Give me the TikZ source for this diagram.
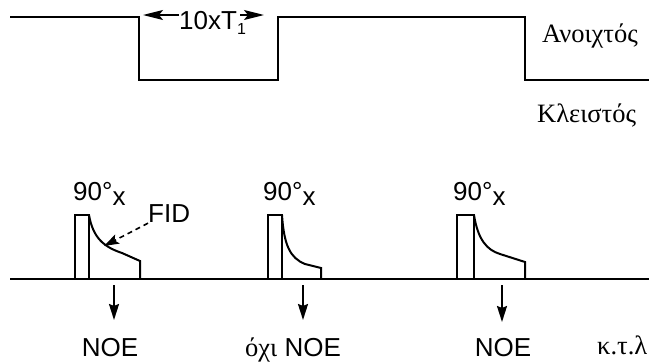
\documentclass[tikz,border=0pt]{standalone}
\usepackage{fontspec}
\setmainfont{Liberation Serif}
\newfontfamily\arialf{Liberation Sans}
\usetikzlibrary{arrows.meta}
\begin{document}
\begin{tikzpicture}[x=1pt,y=-1pt,
  wave/.style={line width=2pt, line join=miter},
  topwave/.style={line width=1.8pt, line join=miter},
  sanslbl/.style={inner sep=0pt, font=\arialf\fontsize{26}{26}\selectfont},
  seriflbl/.style={inner sep=0pt, font=\fontsize{26.5}{26.5}\selectfont},
  harrow/.style={line width=1.8pt, -{Stealth[length=20pt,width=10pt,inset=4pt]}},
  darrow/.style={line width=2pt, -{Stealth[length=16pt,width=10pt,inset=2pt]}},
  dasharrow/.style={line width=1.6pt, dash pattern=on 5pt off 4pt, -{Stealth[length=15pt,width=10pt,inset=3pt]}}
]
\useasboundingbox (0,0) rectangle (649,362);

% top gating waveform
\draw[topwave] (10,17) -- (139,17) -- (139,80) -- (278,80) -- (278,17) -- (525,17) -- (525,80) -- (649,80);

\node[sanslbl, anchor=base west] (tt) at (179,29) {10xT\raisebox{-5pt}{\fontsize{16}{16}\selectfont 1}};
\coordinate (tl) at (143,15);
\coordinate (tr) at (264,15);
\draw[harrow] (tt.west |- tl) -- (tl);
\draw[harrow] ([xshift=-6pt]tt.east |- tr) -- (tr);

\node[seriflbl, anchor=base west] (open) at (542,42) {Ανοιχτός};
\node[seriflbl, anchor=base west] (closed) at (537,122) {Κλειστός};

% pulse sequence baseline
\draw[wave] (10,279) -- (649,279);

% pulse 1 and FID
\draw[wave] (75,279) -- (75,215) -- (89,215) -- (89,279);
\draw[wave] (89,215) .. controls (93,238) and (104,247) .. (122,253) -- (140,261) -- (140,279);
% pulse 2 and FID
\draw[wave] (268,279) -- (268,215) -- (282,215) -- (282,279);
\draw[wave] (282,215) .. controls (284,245) and (290,258) .. (305,264) -- (321,268) -- (321,279);
% pulse 3 and FID
\draw[wave] (457,279) -- (457,215) -- (474,215) -- (474,279);
\draw[wave] (474,215) .. controls (478,240) and (487,250) .. (500,254) -- (525,262) -- (525,279);

% pulse labels
\node[sanslbl, anchor=base west] (p1) at (73,200) {90°\raisebox{-5pt}{x}};
\node[sanslbl, anchor=base west] (p2) at (263,200) {90°\raisebox{-5pt}{x}};
\node[sanslbl, anchor=base west] (p3) at (453,200) {90°\raisebox{-5pt}{x}};

% FID label
\node[sanslbl, anchor=base west] (fid) at (148,222) {FID};
\coordinate (fidtip) at (104,246);
\draw[dasharrow] ([yshift=-1pt]fid.south west) -- (fidtip);

% down arrows and results
\coordinate (d1s) at (114,285); \coordinate (d1e) at (114,320);
\coordinate (d2s) at (303,285); \coordinate (d2e) at (303,320);
\coordinate (d3s) at (502,285); \coordinate (d3e) at (502,322);
\draw[darrow] (d1s) -- (d1e);
\draw[darrow] (d2s) -- (d2e);
\draw[darrow] (d3s) -- (d3e);

\node[sanslbl, anchor=base] (noe1) at (110,356) {NOE};
\node[sanslbl, anchor=base west] (noe2) at (245,356) {{\fontspec{Liberation Serif}\fontsize{26.5}{26.5}\selectfont όχι} NOE};
\node[sanslbl, anchor=base] (noe3) at (503,356) {NOE};
\node[seriflbl, anchor=base west] (ktl) at (597,354) {κ.τ.λ};
\end{tikzpicture}
\end{document}
